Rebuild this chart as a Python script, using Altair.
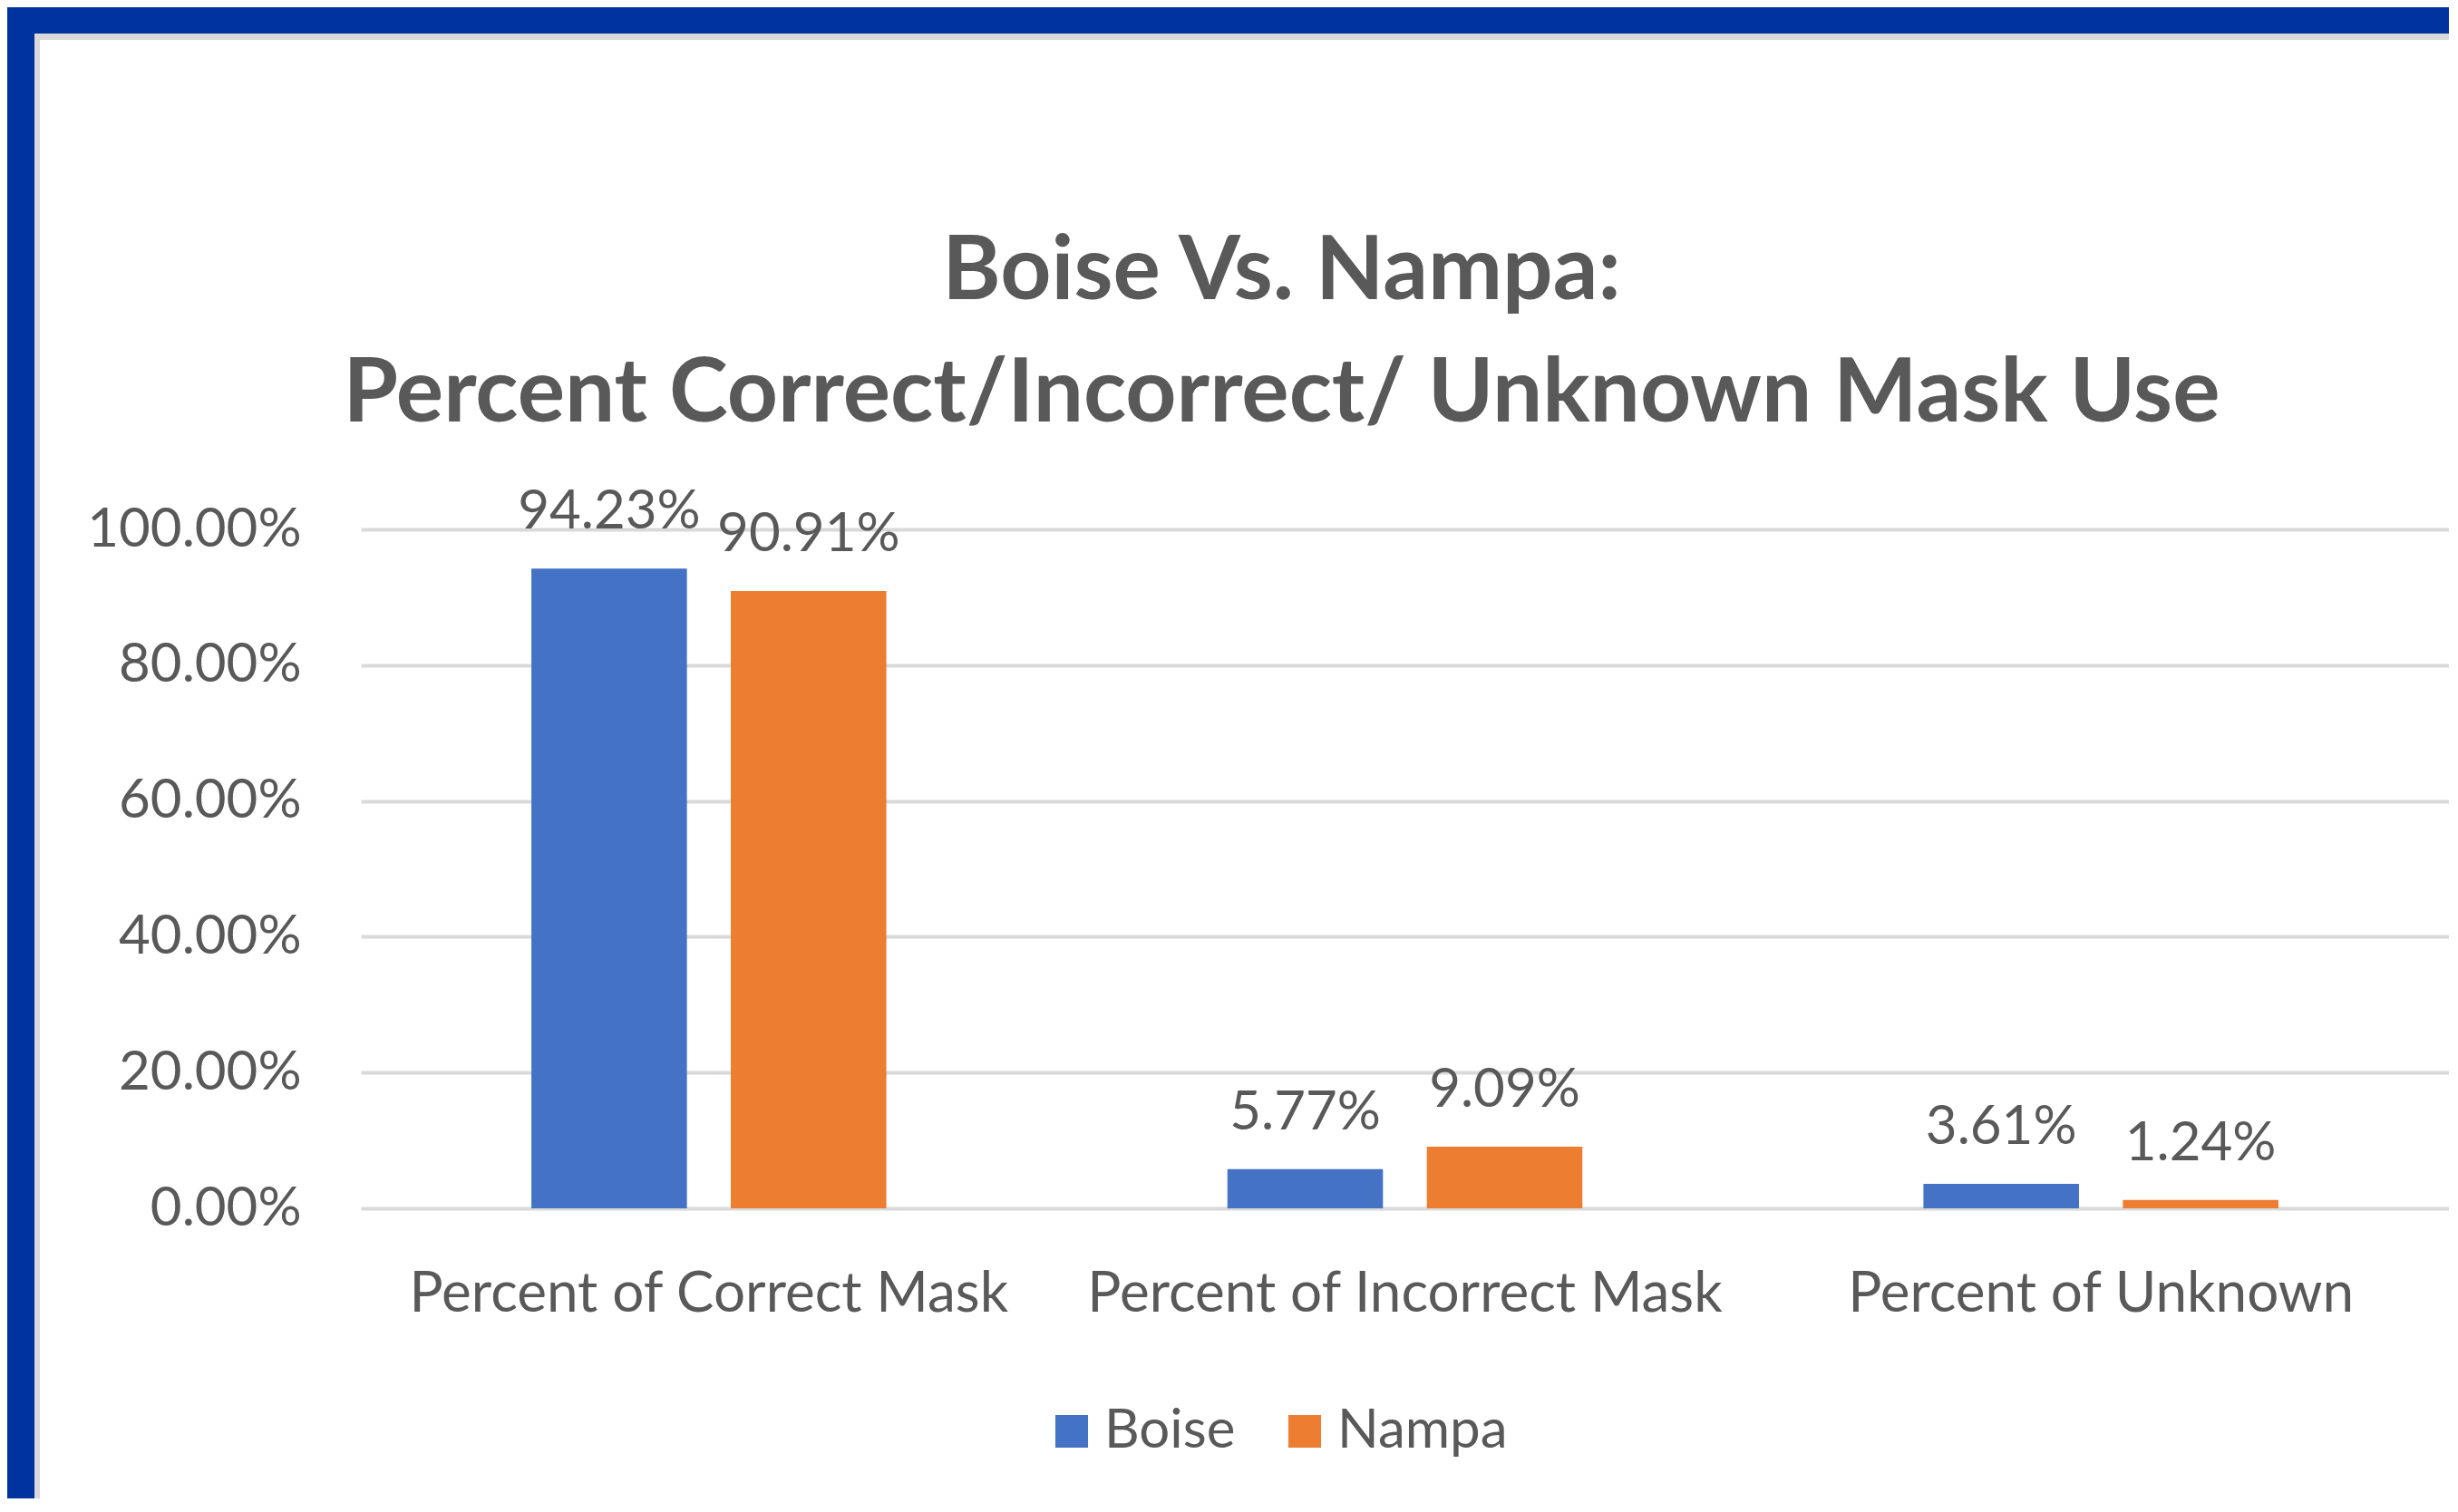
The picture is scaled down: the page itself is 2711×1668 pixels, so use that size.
import altair as alt
import pandas as pd

categories = ["Percent of Correct Mask", "Percent of Incorrect Mask", "Percent of Unknown"]
series = ["Boise", "Nampa"]
boise_values = [0.9423, 0.0577, 0.0361]
nampa_values = [0.9091, 0.0909, 0.0124]
y_ticks = [0.0, 0.2, 0.4, 0.6, 0.8, 1.0]
colors = ["#4472C4", "#ED7D31"]

rows = []
for c, b, n in zip(categories, boise_values, nampa_values):
    rows.append({"category": c, "city": "Boise", "value": b})
    rows.append({"category": c, "city": "Nampa", "value": n})
df = pd.DataFrame(rows)

FONT = "Lato"
GREY = "#595959"
W, H = 2303, 749
PAD_L, PAD_T = 390, 576

x_enc = alt.X("category:N", sort=categories, title=None,
              scale=alt.Scale(paddingInner=0.49, paddingOuter=0.245),
              axis=alt.Axis(labelAngle=0, labelFontSize=62, labelFont=FONT,
                            labelColor=GREY, labelPadding=64, labelLimit=0,
                            domain=False, ticks=False, grid=False))
xoff = alt.XOffset("city:N", sort=series,
                   scale=alt.Scale(paddingInner=0.22, paddingOuter=0))
y_enc = alt.Y("value:Q", title=None,
              scale=alt.Scale(domain=[0, 1], nice=False),
              axis=alt.Axis(values=y_ticks, format=".2%", labelFontSize=60,
                            labelFont=FONT, labelColor=GREY, labelPadding=66,
                            labelLimit=0, domain=False, ticks=False,
                            gridColor="#d9d9d9", gridWidth=4))

base = alt.Chart(df)

bars = base.mark_bar().encode(
    x=x_enc, xOffset=xoff, y=y_enc,
    color=alt.Color("city:N", sort=series,
                    scale=alt.Scale(domain=series, range=colors),
                    legend=alt.Legend(title=None, orient="none",
                                      legendX=754, legendY=965,
                                      direction="horizontal",
                                      symbolType="square", symbolSize=1300,
                                      symbolStrokeWidth=0,
                                      labelFontSize=60, labelFont=FONT,
                                      labelColor=GREY, labelOffset=6,
                                      labelLimit=0, columnPadding=46)),
)

labels = base.mark_text(fontSize=60, font=FONT, color=GREY,
                        baseline="alphabetic", dy=-44).encode(
    x=alt.X("category:N", sort=categories),
    xOffset=alt.XOffset("city:N", sort=series),
    y="value:Q",
    text=alt.Text("value:Q", format=".2%"),
)

one = alt.Data(values=[{"k": 1}])
top_blue = alt.Chart(one).mark_rect(color="#0033A0").encode(
    x=alt.value(-PAD_L), x2=alt.value(W + 20),
    y=alt.value(-PAD_T), y2=alt.value(-PAD_T + 29))
top_grey = alt.Chart(one).mark_rect(color="#d9d9d9").encode(
    x=alt.value(-PAD_L + 29), x2=alt.value(W + 20),
    y=alt.value(-PAD_T + 29), y2=alt.value(-PAD_T + 36))
left_blue = alt.Chart(one).mark_rect(color="#0033A0").encode(
    x=alt.value(-PAD_L), x2=alt.value(-PAD_L + 30),
    y=alt.value(-PAD_T), y2=alt.value(H + 400))
left_grey = alt.Chart(one).mark_rect(color="#d9d9d9").encode(
    x=alt.value(-PAD_L + 30), x2=alt.value(-PAD_L + 36),
    y=alt.value(-PAD_T + 29), y2=alt.value(H + 400))

chart = alt.layer(bars, labels, top_blue, top_grey, left_blue, left_grey).properties(
    width=W, height=H,
    title=alt.TitleParams(
        text=["Boise Vs. Nampa:", "Percent Correct/Incorrect/ Unknown Mask Use"],
        fontSize=98, font=FONT, fontWeight="bold", color=GREY,
        lineHeight=135, anchor="middle", frame="group", dx=-136,
        baseline="top", offset=-478),
    autosize=alt.AutoSizeParams(type="none"),
    padding={"left": PAD_L, "top": PAD_T, "right": 0, "bottom": 320},
    background="white",
).configure_view(stroke=None)

chart.save("out.html", embed_options={"renderer": "svg", "actions": False})
